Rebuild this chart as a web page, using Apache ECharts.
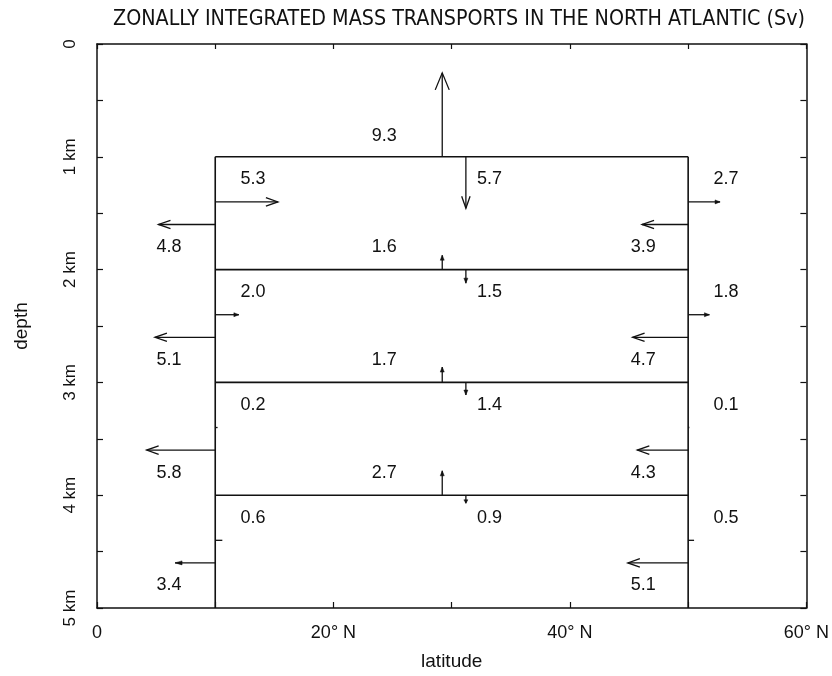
<!DOCTYPE html>
<html><head><meta charset="utf-8">
<script src="https://cdn.jsdelivr.net/npm/echarts@6/dist/echarts.min.js"></script>
<style>html,body{margin:0;padding:0;background:#fff}#c{width:832px;height:676px}</style>
</head><body><div id="c"></div>
<script>
// ---- data (Sv) ----
const layerTops = [1, 2, 3, 4];               // km, top of each box layer
const interfaceDepths = [1, 2, 3, 4];         // km, layer interfaces
const westNorthward = [5.3, 2.0, 0.2, 0.6];   // at 10°N, upper arrows (northward)
const westSouthward = [4.8, 5.1, 5.8, 3.4];   // at 10°N, lower arrows (southward)
const eastNorthward = [2.7, 1.8, 0.1, 0.5];   // at 50°N, upper arrows (northward)
const eastSouthward = [3.9, 4.7, 4.3, 5.1];   // at 50°N, lower arrows (southward)
const upward = [9.3, 1.6, 1.7, 2.7];          // upwelling across interfaces
const downward = [5.7, 1.5, 1.4, 0.9];        // downwelling across interfaces
const boxLats = [10, 50];                     // box walls, °N
const boxDepths = [1, 5];                     // box top / bottom, km
const xLabelValues = [0, 20, 40, 60];
const xLabelTexts = ['0', '20° N', '40° N', '60° N'];
const yLabelValues = [0, 1, 2, 3, 4, 5];
const yLabelTexts = ['0', '1 km', '2 km', '3 km', '4 km', '5 km'];

// ---- layout / scale constants ----
const H_PER_SV = 1.0;    // degrees of latitude per Sv
const V_PER_SV = 0.08;   // km of depth per Sv
const UP_LAT = 29.2, DOWN_LAT = 31.2;
const INK = '#111';
const FONT = "'Liberation Sans', Arial, Helvetica, sans-serif";

const W = boxLats[0], E = boxLats[1];
const arrows = [];
const labels = [];
layerTops.forEach((t, i) => {
  arrows.push([W, t + 0.4, W + westNorthward[i] * H_PER_SV, t + 0.4, westNorthward[i]]);
  arrows.push([W, t + 0.6, W - westSouthward[i] * H_PER_SV, t + 0.6, westSouthward[i]]);
  arrows.push([E, t + 0.4, E + eastNorthward[i] * H_PER_SV, t + 0.4, eastNorthward[i]]);
  arrows.push([E, t + 0.6, E - eastSouthward[i] * H_PER_SV, t + 0.6, eastSouthward[i]]);
  labels.push([13.2, t + 0.2, westNorthward[i]]);
  labels.push([6.1, t + 0.8, westSouthward[i]]);
  labels.push([53.2, t + 0.2, eastNorthward[i]]);
  labels.push([46.2, t + 0.8, eastSouthward[i]]);
});
interfaceDepths.forEach((d, i) => {
  arrows.push([UP_LAT, d, UP_LAT, d - upward[i] * V_PER_SV, upward[i]]);
  arrows.push([DOWN_LAT, d, DOWN_LAT, d + downward[i] * V_PER_SV, downward[i]]);
  labels.push([24.3, d - (i === 0 ? 0.18 : 0.2), upward[i]]);
  labels.push([33.2, d + 0.2, downward[i]]);
});
const segments = [
  [W, boxDepths[0], E, boxDepths[0]],
  [W, boxDepths[0], W, boxDepths[1]],
  [E, boxDepths[0], E, boxDepths[1]]
];
interfaceDepths.slice(1).forEach(d => segments.push([W, d, E, d]));

const chart = echarts.init(document.getElementById('c'), null, {renderer: 'canvas'});
const axisLine = {show: true, onZero: false, lineStyle: {color: INK, width: 1.5}};
const tickStyle = {color: INK, width: 1.2};
chart.setOption({
  animation: false,
  backgroundColor: '#fff',
  graphic: [{
    type: 'text', x: 459, y: 9,
    style: {text: 'ZONALLY INTEGRATED MASS TRANSPORTS IN THE NORTH ATLANTIC (Sv)',
      font: "21.3px 'Liberation Sans Narrow', 'DejaVu Sans Condensed', 'Liberation Sans', sans-serif",
      textAlign: 'center', fill: INK}
  }],
  grid: {left: 97, right: 24, top: 44, bottom: 68},
  xAxis: [{
    type: 'value', min: 0, max: 60, interval: 10, position: 'bottom',
    axisLine, splitLine: {show: false},
    axisTick: {inside: true, length: 6, lineStyle: tickStyle},
    axisLabel: {margin: 16, fontSize: 18, color: INK, fontFamily: FONT,
      formatter: v => { const k = xLabelValues.indexOf(v); return k >= 0 ? xLabelTexts[k] : ''; }},
    name: 'latitude', nameLocation: 'middle', nameGap: 44,
    nameTextStyle: {fontSize: 19, color: INK, fontFamily: FONT}
  }, {
    type: 'value', min: 0, max: 60, interval: 10, position: 'top',
    axisLine, splitLine: {show: false},
    axisTick: {inside: true, length: 5, lineStyle: tickStyle},
    axisLabel: {show: false}
  }],
  yAxis: [{
    type: 'value', min: 0, max: 5, interval: 0.5, inverse: true, position: 'left',
    axisLine, splitLine: {show: false},
    axisTick: {inside: true, length: 6, lineStyle: tickStyle},
    axisLabel: {rotate: 90, margin: 18, fontSize: 17, color: INK, fontFamily: FONT,
      formatter: v => { const k = yLabelValues.indexOf(v); return k >= 0 ? yLabelTexts[k] : ''; }},
    name: 'depth', nameLocation: 'middle', nameGap: 66, nameRotate: 90,
    nameTextStyle: {fontSize: 19, color: INK, fontFamily: FONT}
  }, {
    type: 'value', min: 0, max: 5, interval: 0.5, inverse: true, position: 'right',
    axisLine, splitLine: {show: false},
    axisTick: {inside: true, length: 6, lineStyle: tickStyle},
    axisLabel: {show: false}
  }],
  series: [{
    type: 'custom', coordinateSystem: 'cartesian2d', xAxisIndex: 0, yAxisIndex: 0,
    data: segments, silent: true,
    renderItem: (params, api) => {
      const a = api.coord([api.value(0), api.value(1)]);
      const b = api.coord([api.value(2), api.value(3)]);
      return {type: 'line', shape: {x1: a[0], y1: a[1], x2: b[0], y2: b[1]},
        style: {stroke: INK, lineWidth: 1.6}};
    }
  }, {
    type: 'custom', coordinateSystem: 'cartesian2d', xAxisIndex: 0, yAxisIndex: 0,
    data: arrows, silent: true, clip: false,
    renderItem: (params, api) => {
      const a = api.coord([api.value(0), api.value(1)]);
      const b = api.coord([api.value(2), api.value(3)]);
      const v = api.value(4);
      const dx = b[0] - a[0], dy = b[1] - a[1];
      const len = Math.hypot(dx, dy);
      const children = [{type: 'line', shape: {x1: a[0], y1: a[1], x2: b[0], y2: b[1]},
        style: {stroke: INK, lineWidth: 1.3}}];
      if (len > 7.5) {
        const ux = dx / len, uy = dy / len, nx = -uy, ny = ux;
        if (v >= 3.8) {
          const L = v >= 9 ? 17 : 12, Wd = v >= 9 ? 7 : 4.2;
          children.push({type: 'polyline', shape: {points: [
            [b[0] - ux * L + nx * Wd, b[1] - uy * L + ny * Wd], b,
            [b[0] - ux * L - nx * Wd, b[1] - uy * L - ny * Wd]]},
            style: {stroke: INK, lineWidth: 1.3, fill: null}});
        } else {
          const L = v >= 3 ? 7 : (len < 10 ? 3.5 : 5), Wd = 2;
          children.push({type: 'polygon', shape: {points: [
            [b[0] - ux * L + nx * Wd, b[1] - uy * L + ny * Wd], b,
            [b[0] - ux * L - nx * Wd, b[1] - uy * L - ny * Wd]]},
            style: {fill: INK, stroke: INK, lineWidth: 0.5}});
        }
      }
      return {type: 'group', children};
    }
  }, {
    type: 'custom', coordinateSystem: 'cartesian2d', xAxisIndex: 0, yAxisIndex: 0,
    data: labels, silent: true,
    renderItem: (params, api) => {
      const p = api.coord([api.value(0), api.value(1)]);
      return {type: 'text', x: p[0], y: p[1],
        style: {text: api.value(2).toFixed(1), fill: INK, font: '18px ' + FONT,
          textAlign: 'center', textVerticalAlign: 'middle'}};
    }
  }]
});
</script></body></html>
